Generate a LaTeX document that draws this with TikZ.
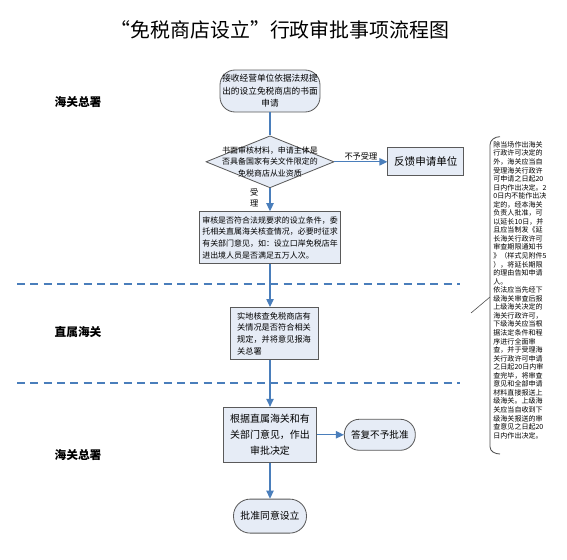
\documentclass[tikz,border=0pt]{standalone}
\usepackage{fontspec}
\setmainfont{Noto Sans CJK SC}
\usetikzlibrary{arrows.meta,positioning,shapes.geometric}
\definecolor{flowblue}{HTML}{4A7EBB}
\definecolor{boxfill}{HTML}{E6ECF6}
\definecolor{boxline}{HTML}{5A5A5A}

\begin{document}
\begin{tikzpicture}[
    every node/.style={inner sep=1pt},
    term/.style={draw=boxline, fill=boxfill, line width=0.7pt, rounded corners=0.45cm, align=center},
    proc/.style={draw=boxline, fill=boxfill, line width=0.7pt, inner sep=2pt},
    decision/.style={draw=boxline, fill=boxfill, line width=0.7pt, diamond, inner sep=0pt},
    flow/.style={-{Triangle[length=2.4mm, width=2.2mm]}, flowblue, line width=1pt},
    plain/.style={flowblue, line width=1pt},
    lane/.style={font=\fontsize{10}{12}\selectfont\bfseries},
    laneline/.style={flowblue, line width=1.1pt, dash pattern=on 2.4mm off 1.6mm},
    bracket/.style={draw=black!70, line width=0.7pt},
    small/.style={text=black, font=\fontsize{7}{10}\selectfont}
]
\useasboundingbox (0,0) rectangle (17.01,-16.77);
\node[font=\fontsize{17}{20}\selectfont] (title) at (8.4,-0.9) {“免税商店设立”行政审批事项流程图};
\node[lane] (lanea) at (2.34,-3.06) {海关总署};
\node[lane] (laneb) at (2.34,-9.96) {直属海关};
\node[lane] (lanec) at (2.34,-13.65) {海关总署};
\draw[laneline] (0.51,-8.52) -- (13.8,-8.52);
\draw[laneline] (0.51,-11.49) -- (13.8,-11.49);

\node[term, minimum width=3.0cm, minimum height=1.26cm, font=\fontsize{7.4}{10.6}\selectfont] (start) at (8.1,-2.73)
    {接收经营单位依据法规提\\出的设立免税商店的书面\\申请};
\node[decision, minimum width=3.84cm, minimum height=1.56cm, below=0.69cm of start] (check) {};
\node[align=center, font=\fontsize{6.8}{10}\selectfont] (checktxt) at (check.center)
    {书面审核材料，申请主体是\\否具备国家有关文件限定的\\免税商店从业资质};
\node[proc, minimum width=2.28cm, minimum height=0.84cm, font=\fontsize{9}{11}\selectfont, right=1.59cm of check] (reply) {反馈申请单位};
\node[proc, minimum width=4.23cm, minimum height=1.56cm, align=left, font=\fontsize{6.8}{10}\selectfont, below=0.69cm of check] (review)
    {审核是否符合法规要求的设立条件，委\\托相关直属海关核查情况，必要时征求\\有关部门意见，如：设立口岸免税店年\\进出境人员是否满足五万人次。};
\node[proc, minimum width=2.64cm, minimum height=1.56cm, align=left, font=\fontsize{7}{9.9}\selectfont, below=1.29cm of review, xshift=0.12cm] (survey)
    {实地核查免税商店有\\关情况是否符合相关\\规定，并将意见报海\\关总署\hspace*{3.5em}};
\node[proc, minimum width=2.79cm, minimum height=1.65cm, align=center, font=\fontsize{8.5}{13.5}\selectfont, below=1.41cm of survey, xshift=-0.12cm] (decide)
    {根据直属海关和有\\关部门意见，作出\\审批决定};
\node[term, minimum width=2.13cm, minimum height=0.93cm, font=\fontsize{8.2}{10}\selectfont, right=0.81cm of decide] (deny) {答复不予批准};
\node[term, minimum width=2.19cm, minimum height=1.02cm, rounded corners=0.5cm, font=\fontsize{8.4}{10}\selectfont, below=1.08cm of decide] (approve) {批准同意设立};

\draw[plain] (start) -- (check);
\draw[flow] (check) -- node[above, small] {不予受理} (reply);
\draw[flow] (check) -- node[left=0.3cm, yshift=0.06cm, small, align=center, font=\fontsize{7}{10}\selectfont] {受\\理} (review);
\draw[flow] (review.south) -- (review.south |- survey.north);
\draw[flow] (survey.south -| decide) -- (decide);
\draw[flow] (decide) -- (deny);
\draw[flow] (decide) -- (approve);

\node[anchor=north west, align=left, font=\fontsize{6}{7.3}\selectfont] (note) at (14.76,-4.2)
    {除当场作出海关\\行政许可决定的\\外，海关应当自\\受理海关行政许\\可申请之日起20\\日内作出决定。2\\0日内不能作出决\\定的，经本海关\\负责人批准，可\\以延长10日，并\\且应当制发《延\\长海关行政许可\\审查期限通知书\\》（样式见附件5\\），将延长期限\\的理由告知申请\\人。\\依法应当先经下\\级海关审查后报\\上级海关决定的\\海关行政许可，\\下级海关应当根\\据法定条件和程\\序进行全面审\\查，并于受理海\\关行政许可申请\\之日起20日内审\\查完毕，将审查\\意见和全部申请\\材料直接报送上\\级海关。上级海\\关应当自收到下\\级海关报送的审\\查意见之日起20\\日内作出决定。};
\draw[bracket] (15.0,-4.1) to[out=180, in=90] (14.7,-4.35) -- (14.7,-13.4) to[out=-90, in=180] (15.0,-13.62);
\coordinate (tip) at (14.13,-9.39);
\coordinate (hook) at (14.7,-8.91);
\draw[bracket, line width=0.5pt] (tip) -- (hook);
\end{tikzpicture}
\end{document}
